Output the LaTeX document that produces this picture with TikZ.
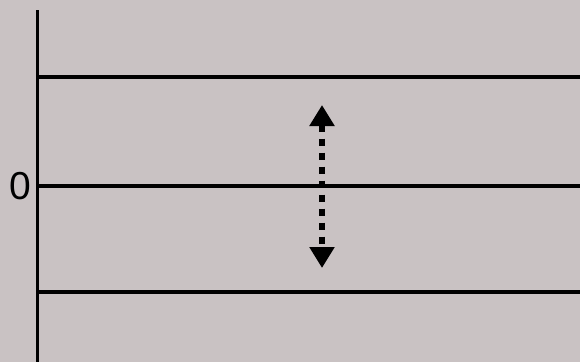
\documentclass[tikz,border=0pt]{standalone}
\usepackage{fontspec}
\setmainfont{Liberation Sans}
\usepackage{xcolor}
\definecolor{stonebg}{RGB}{201,194,195}
\usetikzlibrary{arrows.meta, positioning}

\tikzset{
  axisline/.style={black, line width=3pt},
  levelline/.style={black, line width=3.5pt},
  swingarrow/.style={black, line width=6pt, dash pattern=on 7pt off 7pt,
                     {Triangle[width=24pt,length=21pt]}-{Triangle[width=24pt,length=21pt]}},
  zerolabel/.style={font=\fontsize{39}{40}\selectfont, inner sep=0pt, anchor=east}
}

\begin{document}
\begin{tikzpicture}[x=1pt, y=-1pt]
  % Background
  \fill[stonebg] (0,0) rectangle (580,362);
  \useasboundingbox (0,0) rectangle (580,362);

  % Axis
  \coordinate (axtop) at (37,10);
  \coordinate (axbot) at (37,362);
  \draw[axisline] (axtop) -- (axbot);

  % Level lines
  \coordinate (upL) at (37,77);   \coordinate (upR) at (580,77);
  \coordinate (midL) at (37,186); \coordinate (midR) at (580,186);
  \coordinate (lowL) at (37,292); \coordinate (lowR) at (580,292);
  \draw[levelline] (upL) -- (upR);
  \draw[levelline] (midL) -- (midR);
  \draw[levelline] (lowL) -- (lowR);

  % Zero label
  \node[zerolabel] (zero) at (31,186) {0};

  % Oscillation arrow
  \coordinate (swtop) at (322,105);
  \coordinate (swbot) at (322,268);
  \draw[swingarrow] (swtop) -- (swbot);
\end{tikzpicture}
\end{document}
